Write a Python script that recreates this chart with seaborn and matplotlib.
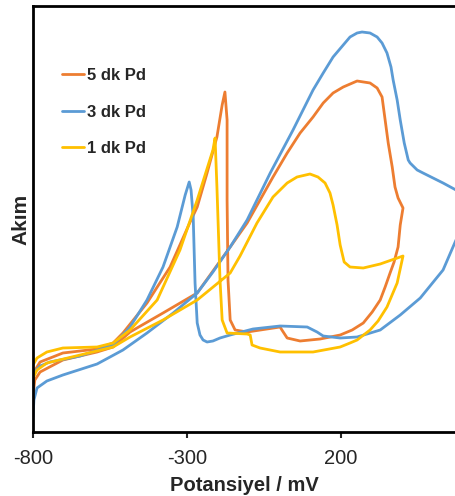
import pandas as pd
import matplotlib
matplotlib.use("Agg")
import matplotlib.pyplot as plt
import seaborn as sns

# ---- Veriler (potansiyel mV, akım keyfi birim) ----
pot_3dk = [-800, -797, -787, -755, -703, -592, -508, -430, -345, -267, -216, -160, -105, -30,
           44, 109, 142, 174, 207, 229, 252, 268, 294, 317, 333, 349, 362, 369, 382, 392,
           405, 418, 424, 447, 466, 531, 573, 612, 619,
           603, 573, 531, 457, 392, 327, 252, 197, 142, 122, 90, 2, -86, -160, -193, -216,
           -235, -248, -258, -267, -274, -280, -287, -293, -306, -332, -378, -430, -485,
           -540, -647, -745, -777, -797, -800]
akim_3dk = [15, 32, 44, 51, 57, 68, 82, 99, 119, 139, 160, 185, 212, 259,
            302, 342, 359, 375, 387, 395, 399, 400, 399, 395, 389, 379, 365, 352, 332, 312,
            289, 272, 269, 262, 259, 249, 242, 232, 217,
            204, 192, 162, 134, 117, 102, 95, 94, 96, 100, 105, 106, 103, 97, 94, 91,
            90, 92, 97, 109, 149, 215, 242, 250, 237, 205, 165, 132, 105,
            87, 76, 70, 66, 60, 52]

pot_5dk = [-800, -794, -777, -703, -592, -540, -485, -378, -267, -160, -105, -21, 25, 67,
           109, 142, 174, 207, 252, 294, 317, 333, 343, 353, 366, 375, 385, 401,
           392, 385, 372, 359, 343, 327, 301, 272, 236, 197, 132, 67, 25, 8, 2, -105, -144,
           -160, -167, -170, -170, -177, -186, -203, -235, -267, -290, -355, -430, -508,
           -540, -592, -703, -777, -797, -800]
akim_5dk = [37, 52, 60, 72, 80, 85, 100, 119, 139, 185, 209, 255, 279, 299,
            315, 329, 339, 345, 351, 349, 344, 335, 312, 289, 265, 245, 234, 224,
            207, 185, 170, 159, 145, 132, 120, 109, 102, 97, 93, 91, 94, 102, 105, 100, 102,
            112, 152, 232, 312, 340, 327, 295, 259, 225, 210, 165, 129, 99,
            89, 83, 79, 70, 60, 47]

pot_1dk = [-800, -787, -755, -647, -540, -485, -378, -267, -160, -128, -73, -21, 25, 57,
           99, 125, 148, 164, 174, 187, 197, 210, 229, 272, 327, 401,
           382, 349, 320, 294, 252, 229, 197, 109, 2, -63, -89, -95, -105, -170, -186,
           -193, -203, -209, -216, -267, -323, -397, -485, -540, -592, -703, -755, -787,
           -800]
akim_1dk = [54, 62, 69, 77, 85, 95, 112, 132, 159, 176, 209, 235, 249, 255,
            258, 255, 249, 239, 227, 207, 187, 170, 165, 164, 168, 176,
            149, 125, 111, 102, 92, 89, 85, 80, 80, 84, 87, 97, 98, 99, 112,
            152, 245, 294, 282, 232, 182, 132, 102, 89, 85, 84, 80, 74,
            67]

etiketler = ["5 dk Pd", "3 dk Pd", "1 dk Pd"]
renkler = ["#ED7D31", "#5B9BD5", "#FFC000"]

frames = []
for lab, p, a in zip(etiketler, [pot_5dk, pot_3dk, pot_1dk], [akim_5dk, akim_3dk, akim_1dk]):
    df = pd.DataFrame({"pot": p, "akim": a})
    df["seri"] = lab
    frames.append(df)
data = pd.concat(frames, ignore_index=True)

sns.set_style("white")
plt.rcParams["font.family"] = ["Liberation Sans", "DejaVu Sans"]
plt.rcParams["axes.unicode_minus"] = False

fig = plt.figure(figsize=(4.56, 4.96), dpi=100)
ax = fig.add_axes([33 / 456, 64 / 496, 1 - 33 / 456, 426 / 496])

sns.lineplot(data=data, x="pot", y="akim", hue="seri", hue_order=etiketler,
             palette=renkler, sort=False, estimator=None, units="seri",
             linewidth=2, ax=ax)

ax.set_xlim(-800, 573)
ax.set_ylim(0, 426)
ax.set_xticks([-800, -300, 200])
ax.set_yticks([])
ax.tick_params(axis="x", labelsize=14.5, length=4, width=1.5, direction="out", pad=8,
               bottom=True)
ax.spines["right"].set_visible(False)
for s in ["left", "bottom", "top"]:
    ax.spines[s].set_color("black")
    ax.spines[s].set_linewidth(2)

ax.set_xlabel("Potansiyel / mV", fontsize=14.5, fontweight="bold", labelpad=6)
ax.set_ylabel("Akım", fontsize=15, fontweight="bold", labelpad=2)

leg = ax.legend(loc="upper left", bbox_to_anchor=(0.034, 0.89), frameon=False,
                handlelength=1.3, handletextpad=0.15, labelspacing=1.3,
                prop={"size": 12, "weight": "bold"})

fig.savefig("out.png", dpi=100)
